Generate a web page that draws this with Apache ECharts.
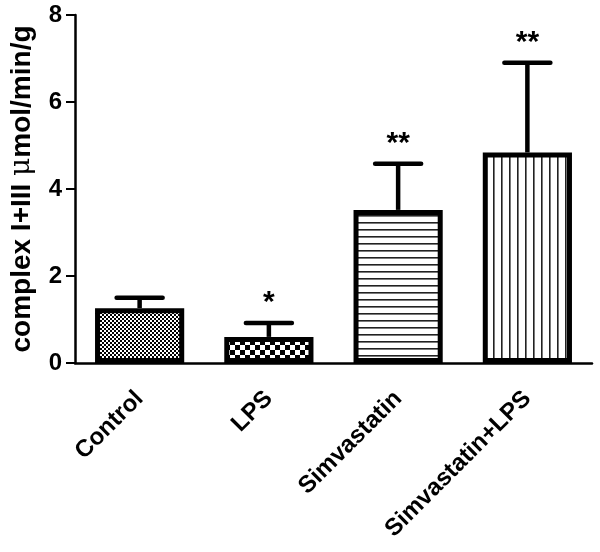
<!DOCTYPE html>
<html><head><meta charset="utf-8">
<script src="https://cdn.jsdelivr.net/npm/echarts@6/dist/echarts.min.js"></script>
<style>html,body{margin:0;padding:0;background:#fff}#c{width:600px;height:552px}</style>
</head><body><div id="c"></div>
<script>
var categories = ['Control', 'LPS', 'Simvastatin', 'Simvastatin+LPS'];
var means = [1.26, 0.6, 3.52, 4.84];
var errorTops = [1.5, 0.92, 4.58, 6.9];
var stars = ['', '*', '**', '**'];
var yTicks = [0, 2, 4, 6, 8];

function makePattern(kind) {
  var c = document.createElement('canvas');
  var ctx = c.getContext('2d');
  if (kind === 'fine') {
    c.width = 4; c.height = 4;
    ctx.fillStyle = '#fff'; ctx.fillRect(0,0,4,4);
    ctx.fillStyle = '#000'; ctx.fillRect(0,0,2,2); ctx.fillRect(2,2,2,2);
  } else if (kind === 'coarse') {
    c.width = 10; c.height = 10;
    ctx.fillStyle = '#fff'; ctx.fillRect(0,0,10,10);
    ctx.fillStyle = '#000'; ctx.fillRect(0,0,5,5); ctx.fillRect(5,5,5,5);
  } else if (kind === 'hlines') {
    c.width = 8; c.height = 7;
    ctx.fillStyle = '#fff'; ctx.fillRect(0,0,8,7);
    ctx.fillStyle = '#222'; ctx.fillRect(0,5,8,1.6);
  } else {
    c.width = 8; c.height = 8;
    ctx.fillStyle = '#fff'; ctx.fillRect(0,0,8,8);
    ctx.fillStyle = '#222'; ctx.fillRect(5,0,1.6,8);
  }
  return c;
}
var patterns = ['fine', 'coarse', 'hlines', 'vlines'];
var FONT = '"Liberation Sans", Arial, sans-serif';

var chart = echarts.init(document.getElementById('c'));
chart.setOption({
  animation: false,
  grid: { left: 75, right: 8, top: 15, bottom: 189 },
  xAxis: {
    type: 'category',
    data: categories,
    axisLine: { lineStyle: { color: '#000', width: 2.5 } },
    axisTick: { alignWithLabel: true, length: 9, lineStyle: { color: '#000', width: 2 } },
    axisLabel: { rotate: 45, color: '#000', fontFamily: FONT, fontWeight: 'bold', fontSize: 24, margin: 32 }
  },
  yAxis: {
    type: 'value', min: 0, max: 8, interval: 2,
    name: '{b|complex I+III }{m|μ}{b|mol/min/g}',
    nameLocation: 'middle', nameGap: 39,
    nameTextStyle: {
      color: '#000', fontFamily: FONT, fontWeight: 'bold', fontSize: 28,
      rich: {
        b: { color: '#000', fontFamily: FONT, fontWeight: 'bold', fontSize: 28 },
        m: { color: '#000', fontFamily: '"DejaVu Serif", serif', fontWeight: 'normal', fontSize: 28 }
      }
    },
    axisLine: { show: true, lineStyle: { color: '#000', width: 2.5 } },
    axisTick: { show: true, length: 9, lineStyle: { color: '#000', width: 2 } },
    axisLabel: { color: '#000', fontFamily: FONT, fontWeight: 'bold', fontSize: 24, margin: 13 },
    splitLine: { show: false }
  },
  series: [
    {
      type: 'bar',
      barWidth: '69%',
      data: means.map(function (v, i) {
        return { value: v, itemStyle: { color: { image: makePattern(patterns[i]), repeat: 'repeat' }, borderColor: '#000', borderWidth: 5 } };
      }),
      z: 2
    },
    {
      type: 'custom',
      data: means.map(function (v, i) { return [i, v, errorTops[i]]; }),
      renderItem: function (params, api) {
        var i = api.value(0);
        var b = api.coord([i, api.value(1)]);
        var t = api.coord([i, api.value(2)]);
        var hw = 23;
        return {
          type: 'group',
          children: [
            { type: 'line', shape: { x1: b[0], y1: b[1], x2: t[0], y2: t[1] }, style: { stroke: '#000', lineWidth: 4.5 } },
            { type: 'line', shape: { x1: t[0] - hw, y1: t[1], x2: t[0] + hw, y2: t[1] }, style: { stroke: '#000', lineWidth: 4.5, lineCap: 'round' } },
            { type: 'text', x: t[0], y: t[1] - 5, style: { text: stars[i], fill: '#000', font: 'bold 30px "Liberation Sans", Arial', textAlign: 'center', textVerticalAlign: 'bottom' } }
          ]
        };
      },
      z: 3
    }
  ]
});
</script></body></html>
